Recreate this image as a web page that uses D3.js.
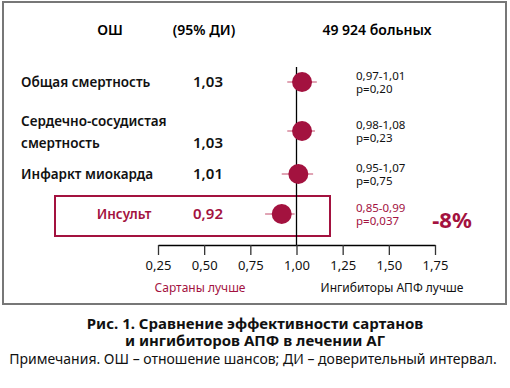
<!DOCTYPE html>
<html lang="ru">
<head>
<meta charset="UTF-8">
<title>Сравнение эффективности сартанов и ингибиторов АПФ</title>
<script src="https://d3js.org/d3.v7.min.js"></script>
<style>
  body { margin: 0; background: #fff; }
  svg text { font-family: "Noto Sans", "DejaVu Sans", sans-serif; }
</style>
</head>
<body>
<div id="chart"></div>
<script>
// данные
const outcomes = [["Общая смертность"], ["Сердечно-сосудистая", "смертность"], ["Инфаркт миокарда"], ["Инсульт"]];
const orValues = [1.03, 1.03, 1.01, 0.92];
const orLabels = ["1,03", "1,03", "1,01", "0,92"];
const ciLabels = ["0,97-1,01", "0,98-1,08", "0,95-1,07", "0,85-0,99"];
const pLabels = ["p=0,20", "p=0,23", "p=0,75", "p=0,037"];
// концы усов, как нарисованы на рисунке
const whiskerLow = [0.95, 0.95, 0.92, 0.83];
const whiskerHigh = [1.11, 1.10, 1.09, 0.99];
const ticks = [0.25, 0.5, 0.75, 1.0, 1.25, 1.5, 1.75];

const W = 510, H = 388;
const red = "#a3123f";
const rowY = [82, 131, 174, 214];

const svg = d3.select("#chart").append("svg")
  .attr("width", W).attr("height", H);

// рамка
svg.append("rect")
  .attr("x", 3).attr("y", 2).attr("width", 503).attr("height", 302)
  .attr("fill", "none").attr("stroke", "#777").attr("stroke-width", 2);

const x = d3.scaleLinear().domain([0.25, 1.75]).range([158, 435]);
const axisY = 245;

// заголовки колонок
const head = svg.append("g").attr("font-size", 14).attr("font-weight", 600)
  .attr("text-anchor", "middle");
head.append("text").attr("x", 110).attr("y", 35).text("ОШ");
head.append("text").attr("x", 204).attr("y", 35).text("(95% ДИ)");
head.append("text").attr("x", 377).attr("y", 35).text("49 924 больных");

// рамка вокруг инсульта
svg.append("rect")
  .attr("x", 55).attr("y", 196).attr("width", 275).attr("height", 40)
  .attr("fill", "none").attr("stroke", red).attr("stroke-width", 2);

// вертикальная линия 1,00
svg.append("line")
  .attr("x1", x(1)).attr("x2", x(1)).attr("y1", 67).attr("y2", axisY)
  .attr("stroke", "#000").attr("stroke-width", 1.3);

// ось
const axis = d3.axisBottom(x).tickValues(ticks).tickSize(10).tickSizeOuter(0)
  .tickPadding(6).tickFormat(d => d3.format(".2f")(d).replace(".", ","));
const gAxis = svg.append("g").attr("transform", `translate(0,${axisY})`).call(axis);
gAxis.select(".domain").attr("stroke", "#000").attr("stroke-width", 1.3);
gAxis.selectAll(".tick line").attr("stroke", "#333").attr("stroke-width", 1.3);
gAxis.selectAll(".tick text").attr("font-size", 13).attr("fill", "#111")
  .attr("font-family", "Noto Sans, sans-serif");

svg.append("text").attr("x", 200).attr("y", 292).attr("text-anchor", "middle")
  .attr("font-size", 12).attr("fill", red).text("Сартаны лучше");
svg.append("text").attr("x", 392).attr("y", 292).attr("text-anchor", "middle")
  .attr("font-size", 12).attr("fill", "#111").text("Ингибиторы АПФ лучше");

// строки
const rows = svg.selectAll("g.row").data(orValues).join("g").attr("class", "row")
  .attr("transform", (d, i) => `translate(0,${rowY[i]})`);

rows.each(function (d, i) {
  const g = d3.select(this);
  const col = i === 3 ? red : "#111";
  const lines = outcomes[i];
  const lab = g.append("text").attr("font-size", 13.5).attr("font-weight", 600)
    .attr("fill", col);
  if (lines.length === 1) {
    lab.attr("x", i === 3 ? 124 : 21).attr("y", 5)
      .attr("text-anchor", i === 3 ? "middle" : "start").text(lines[0]);
  } else {
    lab.append("tspan").attr("x", 21).attr("y", -5).text(lines[0]);
    lab.append("tspan").attr("x", 21).attr("y", 17).text(lines[1]);
  }
  g.append("text").attr("x", 208).attr("y", lines.length > 1 ? 17 : 5)
    .attr("text-anchor", "middle").attr("font-size", 15).attr("font-weight", 600)
    .attr("fill", col).text(orLabels[i]);

  g.append("line")
    .attr("x1", x(whiskerLow[i])).attr("x2", x(whiskerHigh[i]))
    .attr("y1", 0).attr("y2", 0)
    .attr("stroke", "#c24a6a").attr("stroke-width", 1);
  g.append("circle").attr("cx", x(d)).attr("cy", 0).attr("r", 10)
    .attr("fill", red);

  const ci = g.append("text").attr("font-size", 11.5).attr("fill", col);
  ci.append("tspan").attr("x", 356).attr("y", -2).text(ciLabels[i]);
  ci.append("tspan").attr("x", 356).attr("y", 11).text(pLabels[i]);
});

svg.append("text").attr("x", 452).attr("y", 228).attr("text-anchor", "middle")
  .attr("font-size", 22).attr("font-weight", 700).attr("fill", red).text("-8%");

// подпись
const cap = svg.append("g").attr("text-anchor", "middle").attr("fill", "#111");
cap.append("text").attr("x", 255).attr("y", 329).attr("font-size", 15)
  .attr("font-weight", 700).text("Рис. 1. Сравнение эффективности сартанов");
cap.append("text").attr("x", 255).attr("y", 346).attr("font-size", 15)
  .attr("font-weight", 700).text("и ингибиторов АПФ в лечении АГ");
cap.append("text").attr("x", 253).attr("y", 364).attr("font-size", 14)
  .text("Примечания. ОШ – отношение шансов; ДИ – доверительный интервал.");
</script>
</body>
</html>
